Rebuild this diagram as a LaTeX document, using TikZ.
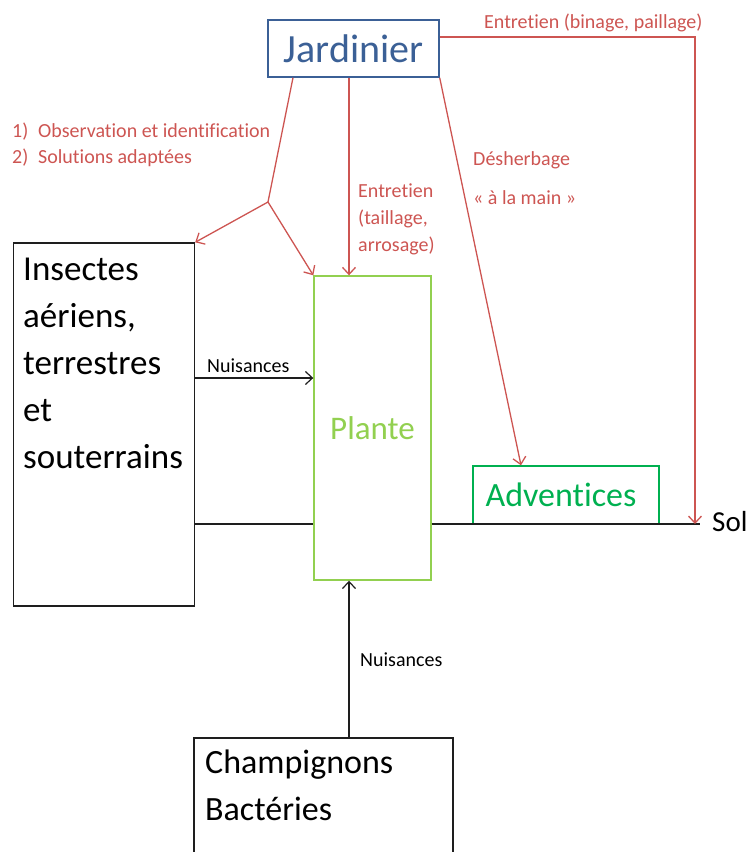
\documentclass[tikz,border=0pt]{standalone}
\usepackage{fontspec}
\setmainfont{Carlito}[Ligatures=NoCommon]
\usetikzlibrary{arrows.meta}
\definecolor{jblue}{RGB}{59,96,150}
\definecolor{jred}{RGB}{205,85,82}
\definecolor{pgreen}{RGB}{146,208,80}
\definecolor{agreen}{RGB}{0,176,80}
\definecolor{trait}{RGB}{30,30,30}

\tikzset{
  boite/.style={draw=trait, rectangle, inner sep=0pt, line width=1.4pt},
  lien/.style={draw=jred, line width=1.3pt},
  noir/.style={draw=trait, line width=1.2pt},
  fleche/.style={-{Straight Barb[length=7pt,width=13pt]}},
  etiq/.style={text=jred, font=\fontsize{20}{27}\selectfont, inner sep=0pt, anchor=base west, align=left},
  petit/.style={font=\fontsize{20}{24}\selectfont, inner sep=0pt, anchor=base west},
}

\begin{document}
\begin{tikzpicture}[x=1pt,y=-1pt]
        \clip (0,0) rectangle (753,852);

        % boites
        \node[boite, draw=jblue, text=jblue, minimum width=171, minimum height=57, font=\fontsize{40}{48}\selectfont] (jardinier) at (353.5,48.5) {Jardinier};
        \node[boite, minimum width=181, minimum height=363] (insectes) at (104,424.5) {};
        \node[boite, draw=pgreen, text=pgreen, minimum width=117, minimum height=304, font=\fontsize{33}{40}\selectfont] (plante) at (372.5,428) {Plante};
        \node[boite, draw=agreen, text=agreen, minimum width=186, minimum height=58, font=\fontsize{34}{40}\selectfont] (adventices) at (566,495) {\hspace*{-10pt}Adventices};
        \node[boite, minimum width=259, minimum height=162] (champignons) at (323.5,819) {};

        % textes des boites (ancre sur la derniere ligne)
        \node[anchor=base west, inner sep=0pt, align=left, font=\fontsize{35}{47}\selectfont] (insectestxt) at (23,468) {Insectes\\a\'eriens,\\terrestres\\et\\souterrains};
        \node[anchor=base west, inner sep=0pt, align=left, font=\fontsize{34}{47}\selectfont] (champtxt) at (205,820) {Champignons\\Bact\'eries};
        \node[anchor=base west, inner sep=0pt, font=\fontsize{29}{34}\selectfont] (sol) at (712,531) {Sol};

        \coordinate (solfin) at (700,524);
        \coordinate (solfleche) at (695,524);
        \coordinate (fourche) at (268,202);

        % sol et nuisances
        \draw[noir] (insectes.east |- solfin) -- (plante.west |- solfin);
        \draw[noir] (plante.east |- solfin) -- (solfin);
        \draw[noir, fleche] (insectes.east |- 0,378) -- (plante.west |- 0,378);
        \draw[noir, fleche] (champignons.north -| 349,0) -- (plante.south -| 349,0);
        \node[petit] (nuis1) at (207,372) {Nuisances};
        \node[petit] (nuis2) at (360,666) {Nuisances};

        % actions du jardinier
        \draw[lien] (jardinier.south -| 293,0) -- (fourche);
        \draw[lien, fleche] (fourche) -- (insectes.north east);
        \draw[lien, fleche] (fourche) -- (plante.north west);
        \draw[lien, fleche] (jardinier.south -| 349,0) -- (plante.north -| 349,0);
        \draw[lien, fleche] (jardinier.south east) -- (adventices.north -| 521,0);
        \draw[lien, fleche] (jardinier.east |- 0,37) -| (solfleche);

        \node[etiq] (binage) at (484,28) {Entretien (binage, paillage)};
        \node[etiq] (obs) at (12,137) {\makebox[26pt][l]{1)}Observation et identification};
        \node[etiq] (sols) at (12,163) {\makebox[26pt][l]{2)}Solutions adapt\'ees};
        \node[etiq] (taille) at (358,251) {Entretien\\(taillage,\\arrosage)};
        \node[etiq] (desh) at (473,165) {D\'esherbage};
        \node[etiq] (main) at (473,204) {\guillemotleft{} \`a la main \guillemotright};

    \end{tikzpicture}
\end{document}
